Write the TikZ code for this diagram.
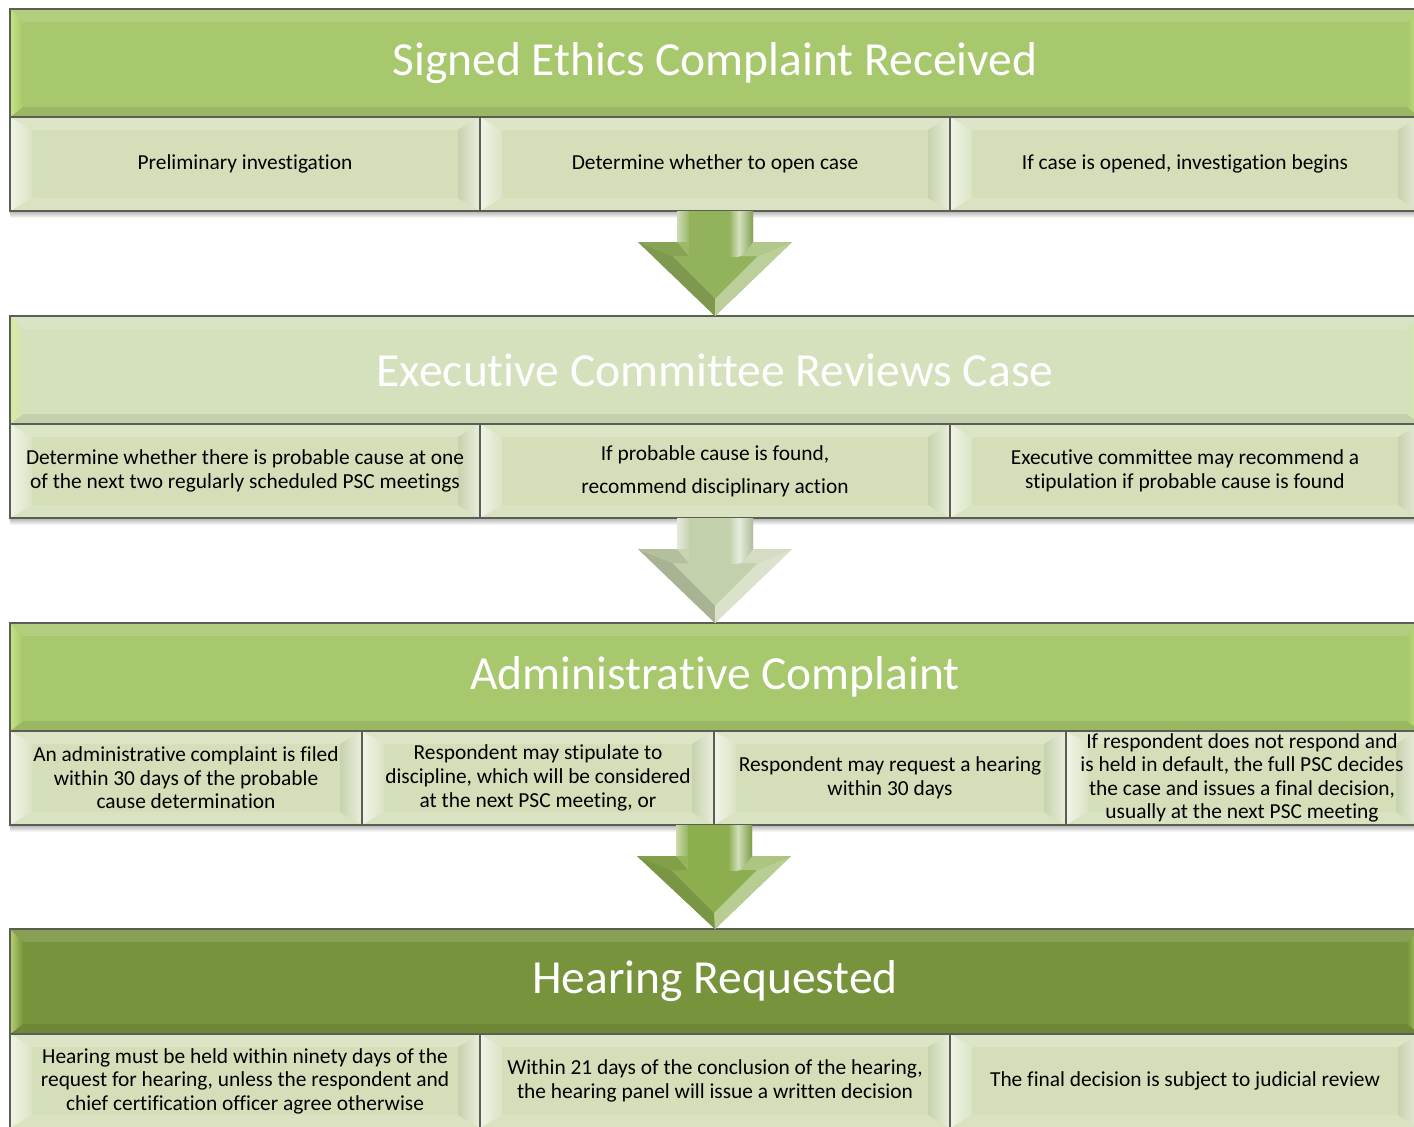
\documentclass[tikz,border=0pt]{standalone}
\usepackage{fontspec}
\setmainfont{Carlito}[Ligatures=NoCommon]
\usetikzlibrary{calc,backgrounds}

\definecolor{hdrA}{HTML}{A7C86C}
\definecolor{hdrB}{HTML}{D4E1BC}
\definecolor{hdrD}{HTML}{77933C}
\definecolor{cellF}{HTML}{D4DFBA}
\definecolor{edgeC}{HTML}{5A5E55}
\definecolor{glowC}{HTML}{D8F28E}
\definecolor{arA}{HTML}{93B25C}
\definecolor{arB}{HTML}{C3D0AC}
\definecolor{arC}{HTML}{8CAE4F}

\tikzset{
  headbox/.style={minimum width=1410pt, minimum height=108pt, inner sep=0pt, outer sep=0pt,
    text=white, font=\fontsize{47.5}{57}\selectfont},
  cellbox/.style={minimum height=94pt, inner sep=0pt, outer sep=0pt, align=center,
    text=black, font=\fontsize{21.4}{23.6}\selectfont},
  wide/.style={cellbox, minimum width=470pt},
  narrow/.style={cellbox, minimum width=352pt},
  edgeline/.style={draw=edgeC, line width=1.3pt},
}

% bevelled face behind a header band
\newcommand{\headbevel}[2]{%
  \begin{scope}[on background layer]
    \fill[#2] (#1.north west) rectangle (#1.south east);
    \fill[#2!88!white] (#1.north west) -- (#1.north east) -- ($(#1.north east)+(-13,13)$) -- ($(#1.north west)+(13,13)$) -- cycle;
    \fill[#2!92!black] (#1.south west) -- (#1.south east) -- ($(#1.south east)+(-13,-10)$) -- ($(#1.south west)+(13,-10)$) -- cycle;
    \shade[left color=#2!35!glowC, right color=#2] (#1.north west) -- ($(#1.north west)+(13,13)$) -- ($(#1.south west)+(13,-10)$) -- (#1.south west) -- cycle;
    \shade[left color=#2, right color=#2!35!glowC] (#1.north east) -- ($(#1.north east)+(-13,13)$) -- ($(#1.south east)+(-13,-10)$) -- (#1.south east) -- cycle;
    \draw[edgeline] (#1.north west) rectangle (#1.south east);
  \end{scope}}

% bevelled face behind a detail cell
\newcommand{\cellbevel}[1]{%
  \begin{scope}[on background layer]
    \fill[cellF] (#1.north west) rectangle (#1.south east);
    \fill[cellF!82!white] (#1.north west) -- (#1.north east) -- ($(#1.north east)+(-22,13)$) -- ($(#1.north west)+(22,13)$) -- cycle;
    \fill[cellF!88!white] (#1.south west) -- (#1.south east) -- ($(#1.south east)+(-22,-13)$) -- ($(#1.south west)+(22,-13)$) -- cycle;
    \shade[left color=cellF!35!white, right color=cellF!85!white] (#1.north west) -- ($(#1.north west)+(22,13)$) -- ($(#1.south west)+(22,-13)$) -- (#1.south west) -- cycle;
    \shade[left color=cellF!94!black, right color=cellF!50!white] (#1.north east) -- ($(#1.north east)+(-22,13)$) -- ($(#1.south east)+(-22,-13)$) -- (#1.south east) -- cycle;
    \draw[edgeline] (#1.north west) rectangle (#1.south east);
  \end{scope}}

% soft shadow under a row of cells
\newcommand{\rowshadow}[2]{%
  \begin{scope}[on background layer]
    \shade[top color=black!30, bottom color=white] (#1.south west) rectangle ($(#2.south east)+(0,7)$);
  \end{scope}}

% bevelled block arrow from the bottom of a row down to the next header
\newcommand{\blockarrow}[3]{%
  \path #1 coordinate (aT) #2 coordinate (aB);
  \fill[#3] ($(aT)+(-38,0)$) -- ($(aT)+(-38,31)$) -- ($(aT)+(-77,31)$) -- (aB)
    -- ($(aT)+(77,31)$) -- ($(aT)+(38,31)$) -- ($(aT)+(38,0)$) -- cycle;
  \fill[#3!86!black] ($(aT)+(-77,31)$) -- (aB) -- ($(aT)+(0,88)$) -- ($(aT)+(-43,45)$) -- cycle;
  \fill[#3!62!white] (aB) -- ($(aT)+(77,31)$) -- ($(aT)+(43,45)$) -- ($(aT)+(0,88)$) -- cycle;
  \fill[#3!92!black] ($(aT)+(-77,31)$) -- ($(aT)+(-38,31)$) -- ($(aT)+(-26,45)$) -- ($(aT)+(-43,45)$) -- cycle;
  \fill[#3!72!white] ($(aT)+(77,31)$) -- ($(aT)+(38,31)$) -- ($(aT)+(27,45)$) -- ($(aT)+(43,45)$) -- cycle;
  \shade[left color=#3!45!white, right color=#3!92!white] ($(aT)+(-38,0)$) rectangle ($(aT)+(-26,31)$);
  \fill[#3!92!white] ($(aT)+(-38,31)$) -- ($(aT)+(-26,31)$) -- ($(aT)+(-26,45)$) -- cycle;
  \shade[left color=#3, right color=#3!40!white] ($(aT)+(14,0)$) rectangle ($(aT)+(24,45)$);
  \shade[left color=#3!40!white, right color=#3!90!black] ($(aT)+(24,0)$) -- ($(aT)+(38,0)$) -- ($(aT)+(38,31)$) -- ($(aT)+(27,45)$) -- ($(aT)+(24,45)$) -- cycle;
}

\begin{document}
\begin{tikzpicture}[x=1pt, y=-1pt]
\useasboundingbox (0,0) rectangle (1414,1127);
\begin{scope}[on background layer]
  \fill[white] (0,0) rectangle (1414,1127);
\end{scope}

% stage 1
\node[headbox] (h1) at (715,63) {Signed Ethics Complaint Received};
\headbevel{h1}{hdrA}
\node[wide] (c1a) at (245,164) {Preliminary investigation};
\node[wide] (c1b) at (715,164) {Determine whether to open case};
\node[wide] (c1c) at (1185,164) {If case is opened, investigation begins};
\rowshadow{c1a}{c1c}
\cellbevel{c1a}\cellbevel{c1b}\cellbevel{c1c}

% stage 2
\node[headbox] (h2) at (715,370) {Executive Committee Reviews Case};
\headbevel{h2}{hdrB}
\node[wide] (c2a) at (245,471) {Determine whether there is probable cause at one\\of the next two regularly scheduled PSC meetings};
\node[wide] (c2b) at (715,471) {If probable cause is found,\\[9.5pt]recommend disciplinary action};
\node[wide] (c2c) at (1185,471) {Executive committee may recommend a\\stipulation if probable cause is found};
\rowshadow{c2a}{c2c}
\cellbevel{c2a}\cellbevel{c2b}\cellbevel{c2c}

% stage 3
\node[headbox] (h3) at (715,677) {Administrative Complaint};
\headbevel{h3}{hdrA}
\node[narrow] (c3a) at (186,778) {An administrative complaint is filed\\within 30 days of the probable\\cause determination};
\node[narrow] (c3b) at (538,778) {Respondent may stipulate to\\discipline, which will be considered\\at the next PSC meeting, or};
\node[narrow] (c3c) at (890,778) {Respondent may request a hearing\\within 30 days};
\node[narrow] (c3d) at (1242,778) {If respondent does not respond and\\is held in default, the full PSC decides\\the case and issues a final decision,\\usually at the next PSC meeting};
\rowshadow{c3a}{c3d}
\cellbevel{c3a}\cellbevel{c3b}\cellbevel{c3c}\cellbevel{c3d}

% stage 4
\node[headbox, minimum height=105pt] (h4) at (715,981.5) {Hearing Requested};
\headbevel{h4}{hdrD}
\node[wide] (c4a) at (245,1081) {Hearing must be held within ninety days of the\\request for hearing, unless the respondent and\\chief certification officer agree otherwise};
\node[wide] (c4b) at (715,1081) {Within 21 days of the conclusion of the hearing,\\the hearing panel will issue a written decision};
\node[wide] (c4c) at (1185,1081) {The final decision is subject to judicial review};
\cellbevel{c4a}\cellbevel{c4b}\cellbevel{c4c}

% flow between stages
\blockarrow{(c1b.south)}{(h2.north)}{arA}
\blockarrow{(c2b.south)}{(h3.north)}{arB}
\blockarrow{(c3b.south east)}{(h4.north)}{arC}
\end{tikzpicture}
\end{document}
